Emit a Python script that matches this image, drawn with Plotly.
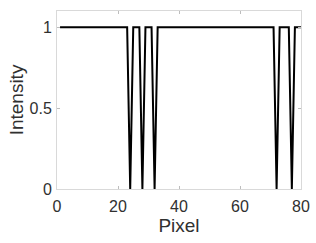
import plotly.graph_objects as go

pixels = list(range(1, 81))
zero_pixels = [24, 28, 32, 72, 77]
intensity = [0 if p in zero_pixels else 1 for p in pixels]

x_ticks = [0, 20, 40, 60, 80]
y_ticks = [0, 0.5, 1]
y_tick_text = ["0", "0.5", "1"]

FONT = "Liberation Sans, Arial, Helvetica"
TXT = "#303030"

axis_common = dict(showline=True, mirror="ticks", linecolor="#d9d9d9", linewidth=1,
                   ticks="inside", ticklen=3, tickcolor="#bdbdbd", showgrid=False,
                   zeroline=False, automargin=False,
                   tickfont=dict(family=FONT, size=16, color=TXT))

fig = go.Figure()
fig.add_trace(go.Scatter(x=pixels, y=intensity, mode="lines",
                         line=dict(color="black", width=2)))

fig.update_layout(
    width=316, height=243,
    margin=dict(l=57, r=15, t=11, b=54),
    paper_bgcolor="white", plot_bgcolor="white",
    showlegend=False,
    xaxis=dict(range=[0, 80], tickvals=x_ticks, ticktext=[str(t) for t in x_ticks],
               ticklabelstandoff=3,
               title=dict(text="Pixel", font=dict(family=FONT, size=19, color=TXT), standoff=0),
               **axis_common),
    yaxis=dict(range=[0, 1.1], tickvals=y_ticks, ticktext=y_tick_text,
               ticklabelstandoff=1,
               title=dict(text="Intensity", font=dict(family=FONT, size=19, color=TXT), standoff=0),
               **axis_common),
)

fig.write_html("out.html", config={"displayModeBar": False},
               post_script="document.body.style.margin='0px';")
